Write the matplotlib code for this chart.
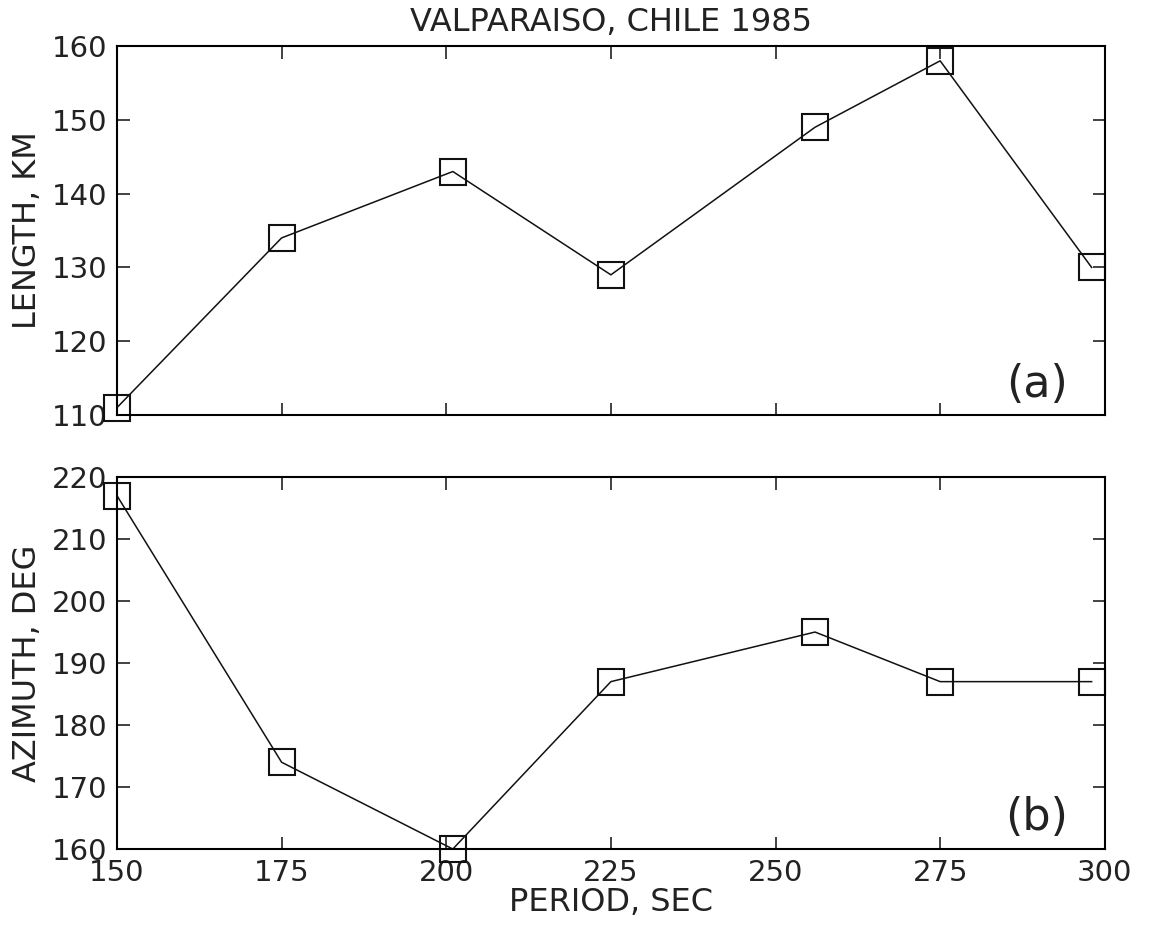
import numpy as np
import matplotlib.pyplot as plt

# data
period = [150, 175, 201, 225, 256, 275, 298]
length_km = [111, 134, 143, 129, 149, 158, 130]
azimuth_deg = [217, 174, 160, 187, 195, 187, 187]

x_ticks = [150, 175, 200, 225, 250, 275, 300]
len_ticks = [110, 120, 130, 140, 150, 160]
az_ticks = [160, 170, 180, 190, 200, 210, 220]

plt.rcParams['font.family'] = 'DejaVu Sans'
plt.rcParams['font.size'] = 20

fig = plt.figure(figsize=(11.5, 9.27), dpi=100)
ax1 = fig.add_axes([0.1017, 0.5523, 0.859, 0.398])
ax2 = fig.add_axes([0.1017, 0.0841, 0.859, 0.4013])

mk = dict(marker='s', markersize=19, markerfacecolor='none',
          markeredgecolor='#111111', markeredgewidth=1.5, color='#111111', lw=1.1,
          clip_on=False)

ax1.plot(period, length_km, **mk)
ax2.plot(period, azimuth_deg, **mk)

for ax in (ax1, ax2):
    ax.set_xlim(150, 300)
    ax.set_xticks(x_ticks)
    ax.tick_params(direction='in', length=9, width=1.2, top=True, right=True,
                   labelsize=21, pad=7, colors='#222222')
    for s in ax.spines.values():
        s.set_linewidth(1.5)

ax1.set_ylim(110, 160)
ax1.set_yticks(len_ticks)
ax1.tick_params(labelbottom=False)
ax1.set_ylabel('LENGTH, KM', fontsize=23, labelpad=6, color='#222222')
ax1.set_title('VALPARAISO, CHILE 1985', fontsize=23, pad=11, color='#222222')
ax1.text(0.931, 0.05, '(a)', transform=ax1.transAxes, fontsize=32,
         ha='center', va='baseline', color='#222222')

ax2.set_ylim(160, 220)
ax2.set_yticks(az_ticks)
ax2.set_xlabel('PERIOD, SEC', fontsize=23, labelpad=0, color='#222222')
ax2.set_ylabel('AZIMUTH, DEG', fontsize=23, labelpad=6, color='#222222')
ax2.text(0.931, 0.05, '(b)', transform=ax2.transAxes, fontsize=32,
         ha='center', va='baseline', color='#222222')

plt.savefig('out.png', dpi=100)
